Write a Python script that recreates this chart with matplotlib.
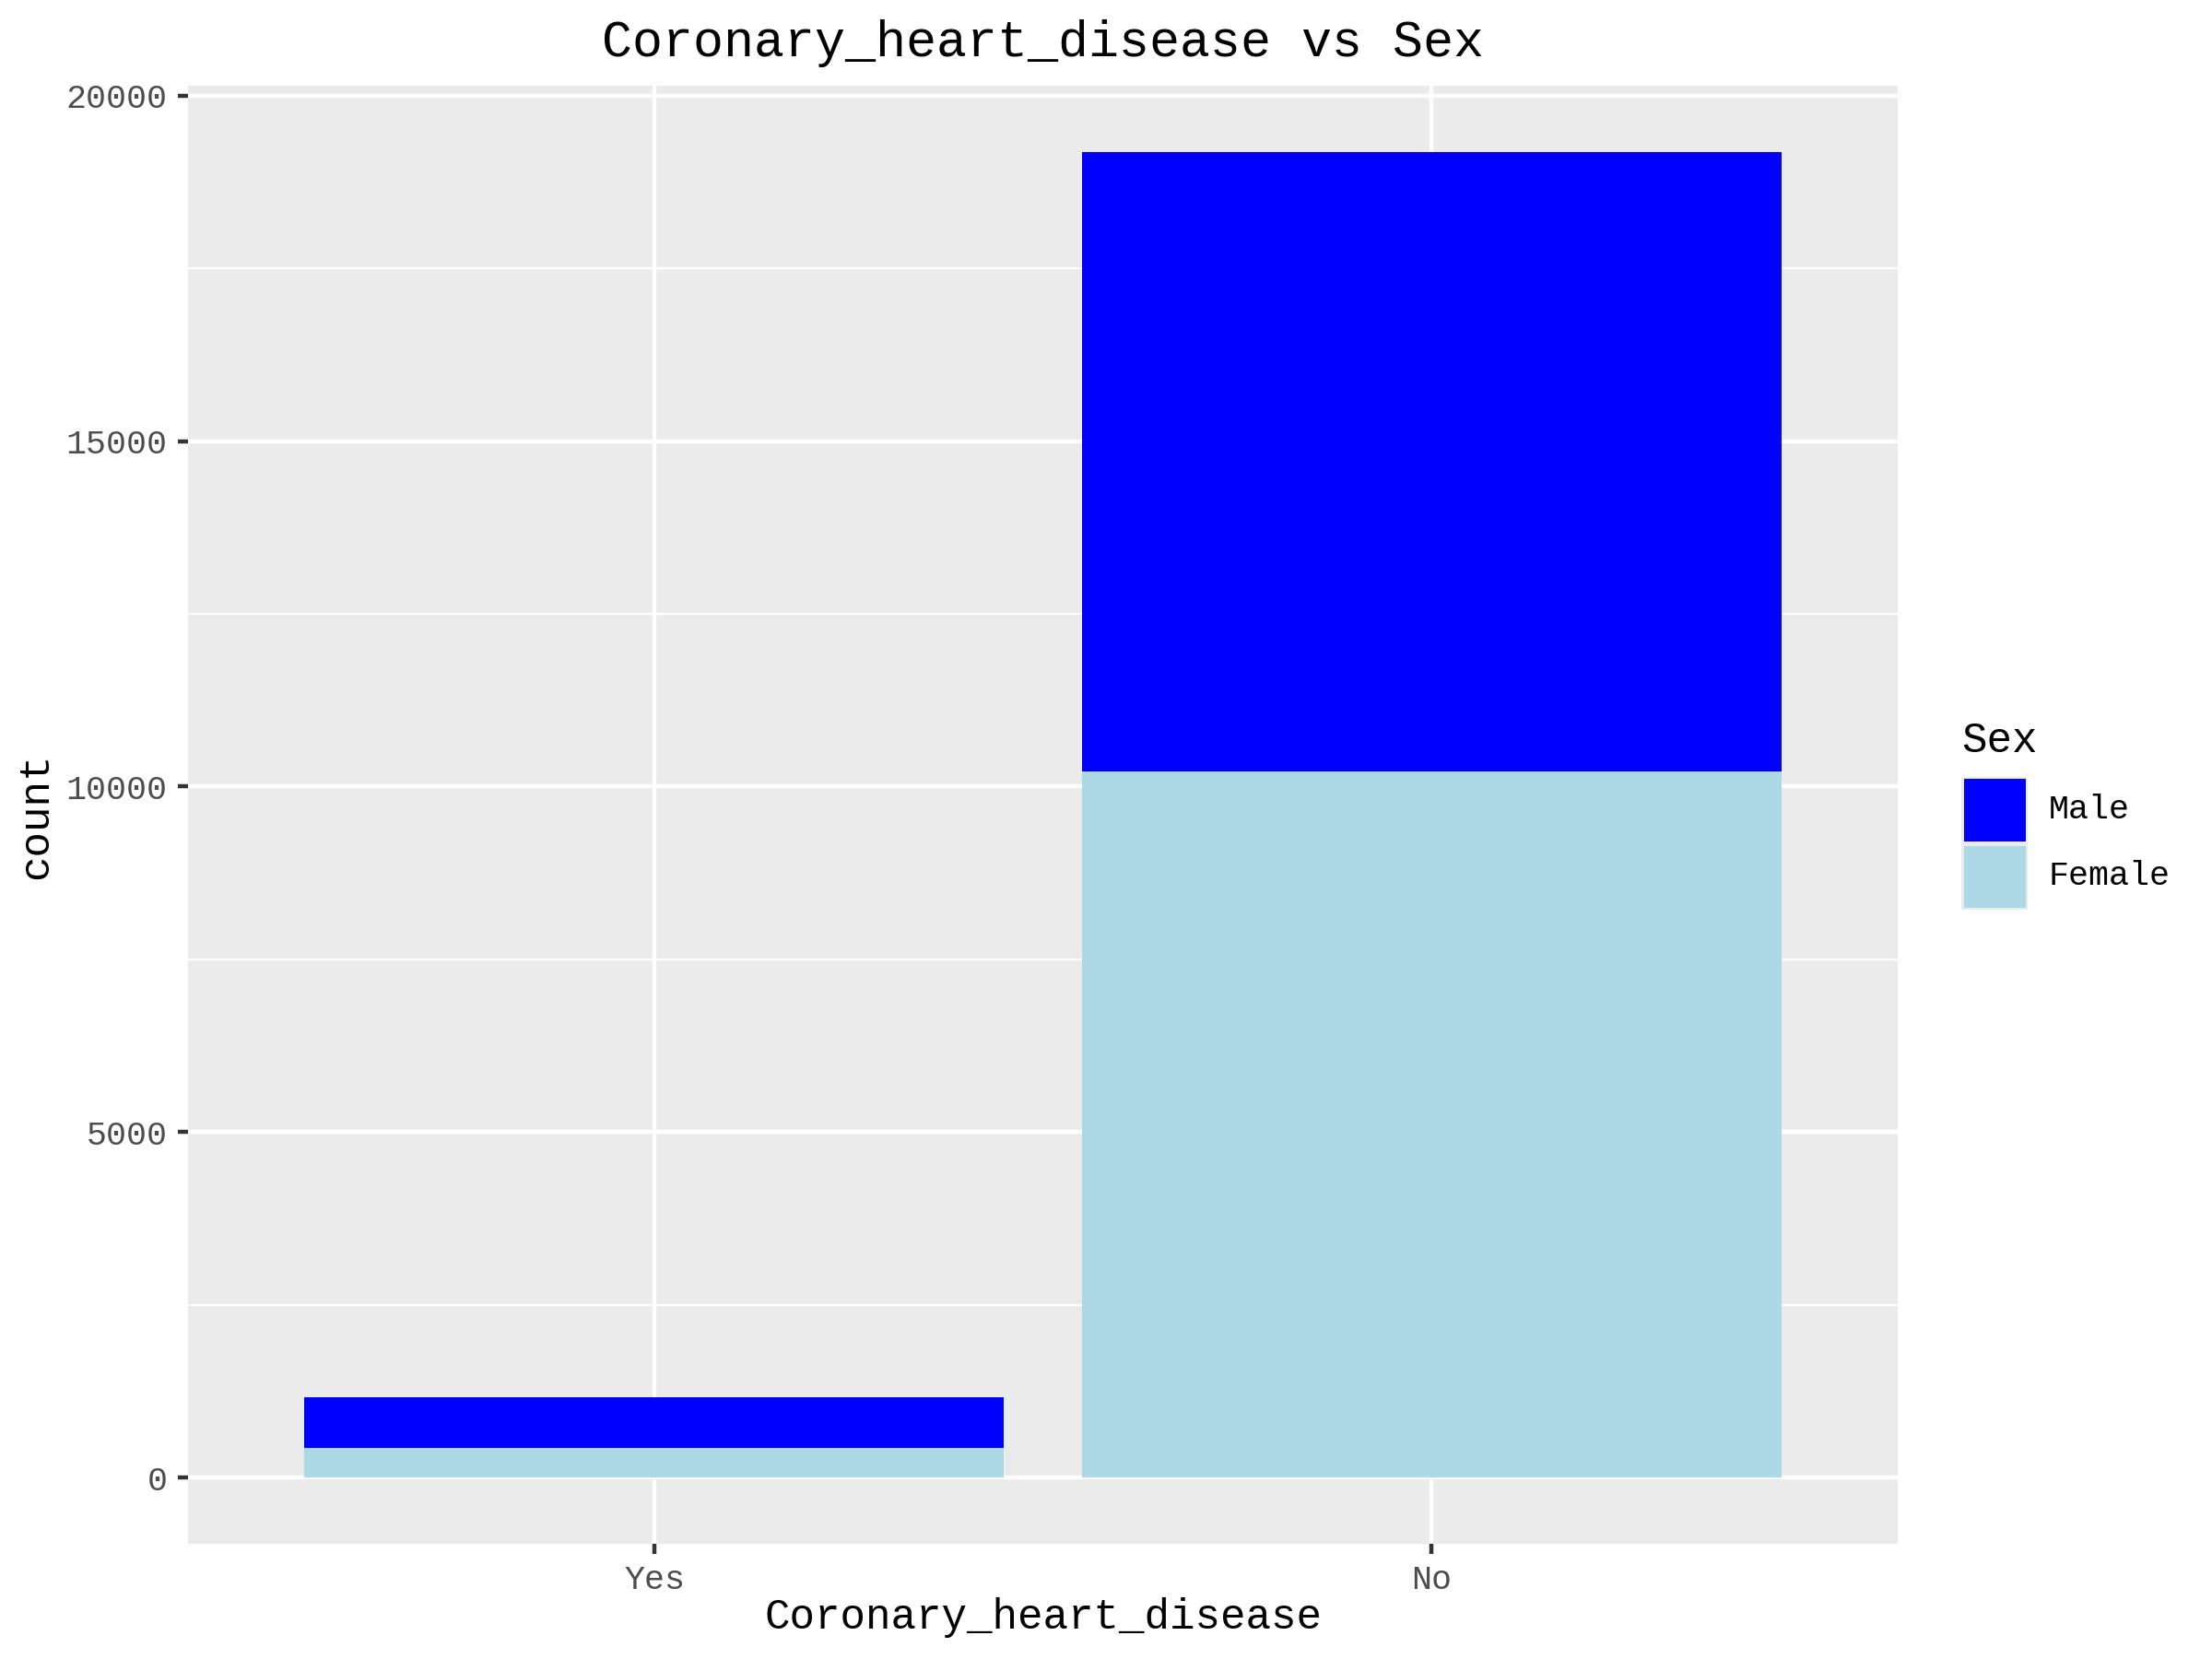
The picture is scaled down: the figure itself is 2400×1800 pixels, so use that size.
import numpy as np
import matplotlib
matplotlib.use("Agg")
import matplotlib.pyplot as plt
from matplotlib.patches import Rectangle

# counts
categories = ["Yes", "No"]
female_counts = [430, 10220]
male_counts = [733, 8963]
sex_labels = ["Male", "Female"]
sex_colors = {"Male": "#0000FF", "Female": "#ADD8E6"}

plt.rcParams["font.family"] = ["Liberation Mono", "DejaVu Sans Mono"]

W, H = 2400, 1800
fig = plt.figure(figsize=(8, 6), dpi=300)


def fx(px):
    return px / W


def fy(py):
    return 1 - py / H


left, right, top, bottom = 204, 2059, 93, 1675
mid = (left + right) / 2
ax = fig.add_axes([fx(left), fy(bottom), fx(right - left), (bottom - top) / H])

x = np.arange(1, len(categories) + 1)
ax.bar(x, female_counts, width=0.9, color=sex_colors["Female"], zorder=2)
ax.bar(x, male_counts, width=0.9, bottom=female_counts, color=sex_colors["Male"], zorder=2)

totals = np.array(female_counts) + np.array(male_counts)
ymax = totals.max()
ax.set_xlim(0.4, len(categories) + 0.6)
ax.set_ylim(-0.05 * ymax, 1.05 * ymax)

ax.set_facecolor("#EBEBEB")
for s in ax.spines.values():
    s.set_visible(False)

ax.set_xticks(x)
ax.set_xticklabels(categories)
ax.set_yticks([0, 5000, 10000, 15000, 20000])
ax.set_yticks([2500, 7500, 12500, 17500], minor=True)
ax.grid(True, which="major", color="white", linewidth=1.07, zorder=1)
ax.grid(True, which="minor", axis="y", color="white", linewidth=0.53, zorder=1)
ax.set_axisbelow(True)
ax.tick_params(which="major", length=2.75, width=1.07, color="#333333",
               labelcolor="#4D4D4D", labelsize=8.8, pad=2.6)
ax.tick_params(which="minor", length=0)

fig.text(fx(mid), fy(61), "Coronary_heart_disease vs Sex", ha="center",
         va="baseline", fontsize=13.2, color="black")
fig.text(fx(mid), fy(1767), "Coronary_heart_disease", ha="center",
         va="baseline", fontsize=11, color="black")
fig.text(fx(39), fy(885), "count", ha="center", va="center", rotation=90,
         fontsize=11, color="black")

# legend
fig.text(fx(2128), fy(816), "Sex", ha="left", va="baseline", fontsize=11)
key = 72
for i, lab in enumerate(sex_labels):
    y0 = 843 + i * key
    fig.add_artist(Rectangle((fx(2128), fy(y0 + key)), fx(key), key / H,
                             transform=fig.transFigure, facecolor="#EBEBEB",
                             edgecolor="none"))
    fig.add_artist(Rectangle((fx(2130.5), fy(y0 + key - 2.5)), fx(key - 5),
                             (key - 5) / H, transform=fig.transFigure,
                             facecolor=sex_colors[lab], edgecolor="none"))
    fig.text(fx(2223), fy(y0 + key / 2), lab, ha="left", va="center",
             fontsize=8.8)

fig.savefig("out.png", dpi=300)
